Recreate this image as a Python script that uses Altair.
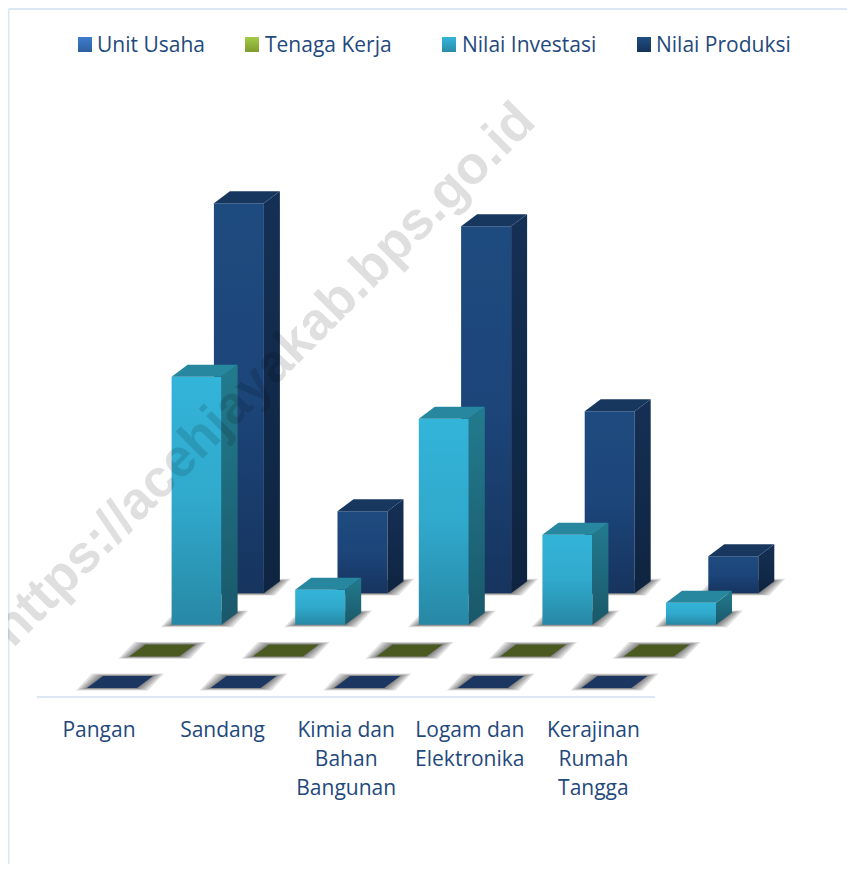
import altair as alt
import pandas as pd

categories = ["Pangan", "Sandang", "Kimia dan\nBahan\nBangunan", "Logam dan\nElektronika", "Kerajinan\nRumah\nTangga"]
series = ["Unit Usaha", "Tenaga Kerja", "Nilai Investasi", "Nilai Produksi"]
unit_usaha = [0, 0, 0, 0, 0]
tenaga_kerja = [0, 0, 0, 0, 0]
nilai_investasi = [248, 35, 206, 90, 22]
nilai_produksi = [390, 82, 367, 182, 37]
values = [unit_usaha, tenaga_kerja, nilai_investasi, nilai_produksi]

W, H = 839, 856
X0, STEP, ROW_DX, ROW_DY, BAR_W, DX, DY = 79, 123.6, 42.3, 31.6, 50, 16, 12
FLOOR = H - 680

xs = alt.Scale(domain=[0, W], range=[0, W], nice=False, zero=False)
ys = alt.Scale(domain=[0, H], range=[H, 0], nice=False, zero=False)
X = alt.X("x:Q", scale=xs, axis=None)
Y = alt.Y("y:Q", scale=ys, axis=None)


def grad(*colors):
    n = len(colors) - 1
    return alt.Gradient(gradient="linear", x1=0, x2=0, y1=0, y2=1,
                        stops=[alt.GradientStop(color=c, offset=k / n) for k, c in enumerate(colors)])


styles = [
    dict(front=grad("#1e4b7f", "#16355f"), side=grad("#142f52", "#0e2440"), top="#1b3660"),
    dict(front=grad("#5a6d25", "#4a5a20"), side=grad("#3d4a1a", "#333e16"), top="#4a5a20"),
    dict(front=grad("#33b4d9", "#30a9cc", "#2788a5"), side=grad("#237b8e", "#19586a"), top="#27879f"),
    dict(front=grad("#1e4b7f", "#1c457a", "#16345e"), side=grad("#153055", "#0e2440"), top="#18375f"),
]
legend_fill = [grad("#3d7dcd", "#2e5f9e"), grad("#a3cc48", "#7f9c30"),
               grad("#35b4d9", "#2a8ca8"), grad("#1f4e82", "#15325a")]
legend_x = [70, 237, 434, 629]
legend_text_x = [89, 257, 454, 648]

layers = []

# frame and floor line
frame = pd.DataFrame({"x": [0.5, 0.5], "x2": [0.5, W], "y": [H - 1, H - 1], "y2": [0, H - 1]})
layers.append(alt.Chart(frame).mark_rule(color="#dce7f5", strokeWidth=2).encode(
    X, Y, x2="x2:Q", y2="y2:Q"))
floor = pd.DataFrame({"x": [29], "x2": [647], "y": [H - 689]})
layers.append(alt.Chart(floor).mark_rule(color="#dce6f4", strokeWidth=2).encode(X, Y, x2="x2:Q"))

# bars, back row first
for r in [3, 2, 1, 0]:
    base = FLOOR + ROW_DY * r
    xr = X0 + ROW_DX * r
    bars = [(i, xr + STEP * i, values[r][i]) for i in range(len(categories))]
    for ex, ey in [(11, 2.4), (8.5, 1.8), (6, 1.3), (3.5, 0.9), (1.5, 0.5)]:
        rows = []
        for i, x, v in bars:
            rows.append(dict(id=i, y=base - ey, x=x - ex, x2=x + BAR_W + ex))
            rows.append(dict(id=i, y=base + DY + ey, x=x + DX - ex, x2=x + DX + BAR_W + ex))
        layers.append(alt.Chart(pd.DataFrame(rows)).mark_area(
            orient="horizontal", color="#000000", opacity=0.12
        ).encode(Y, X, x2="x2:Q", detail="id:N"))
    s = styles[r]
    solid = [b for b in bars if b[2] > 0]
    if solid:
        front = pd.DataFrame([dict(x=x, x2=x + BAR_W, y=base, y2=base + v) for i, x, v in solid])
        layers.append(alt.Chart(front).mark_rect(color=s["front"], opacity=1).encode(
            X, Y, x2="x2:Q", y2="y2:Q"))
        rows = []
        for i, x, v in solid:
            rows.append(dict(id=i, x=x + BAR_W, y=base, y2=base + v))
            rows.append(dict(id=i, x=x + BAR_W + DX, y=base + DY, y2=base + v + DY))
        layers.append(alt.Chart(pd.DataFrame(rows)).mark_area(color=s["side"], opacity=1).encode(
            X, Y, y2="y2:Q", detail="id:N"))
    rows = []
    for i, x, v in bars:
        rows.append(dict(id=i, y=base + v, x=x, x2=x + BAR_W))
        rows.append(dict(id=i, y=base + v + DY, x=x + DX, x2=x + DX + BAR_W))
    layers.append(alt.Chart(pd.DataFrame(rows)).mark_area(
        orient="horizontal", color=s["top"], opacity=1
    ).encode(Y, X, x2="x2:Q", detail="id:N"))

# legend
for name, fill, lx, tx in zip(series, legend_fill, legend_x, legend_text_x):
    sw = pd.DataFrame({"x": [lx], "x2": [lx + 14], "y": [H - 29], "y2": [H - 44]})
    layers.append(alt.Chart(sw).mark_rect(color=fill, opacity=1).encode(X, Y, x2="x2:Q", y2="y2:Q"))
    lab = pd.DataFrame({"x": [tx], "y": [H - 38], "t": [name]})
    layers.append(alt.Chart(lab).mark_text(
        align="left", baseline="middle", font="Open Sans", fontSize=21, color="#1f497d"
    ).encode(X, Y, text="t:N"))

# category labels
cat = pd.DataFrame({"x": [91 + STEP * i for i in range(len(categories))],
                    "y": [H - 723] * len(categories), "t": categories})
layers.append(alt.Chart(cat).mark_text(
    align="center", baseline="middle", font="Open Sans", fontSize=21, color="#1f497d",
    lineBreak="\n", lineHeight=29
).encode(X, Y, text="t:N"))

# watermark
wm = pd.DataFrame({"x": [256], "y": [H - 367], "t": ["https://acehjayakab.bps.go.id"]})
layers.append(alt.Chart(wm).mark_text(
    align="center", baseline="middle", font="Liberation Sans", fontWeight="bold",
    fontSize=53, angle=315, color="#000000", opacity=0.12
).encode(X, Y, text="t:N"))

chart = alt.layer(*layers).properties(
    width=W, height=H, autosize="none", padding=0, background="#ffffff"
).configure_view(stroke=None)

chart.save("out.html", embed_options={"renderer": "svg", "actions": False})
